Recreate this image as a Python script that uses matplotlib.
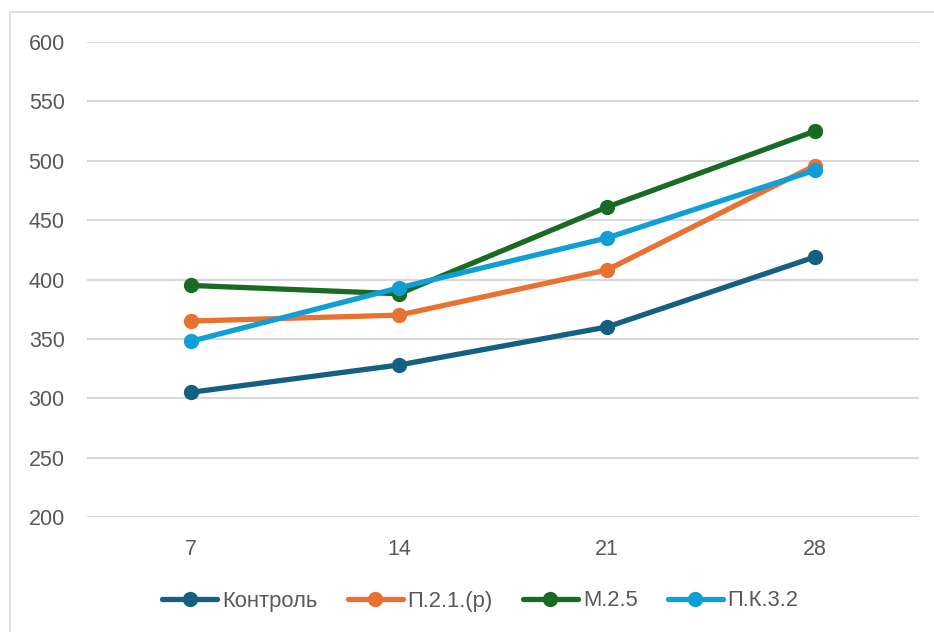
import matplotlib
matplotlib.use("Agg")
import matplotlib.pyplot as plt
from matplotlib.patches import Rectangle

categories = ["7", "14", "21", "28"]
series_names = ["Контроль", "П.2.1.(р)", "М.2.5", "П.К.3.2"]
kontrol = [305, 328, 360, 419]
p21 = [365, 370, 408, 496]
m25 = [395, 388, 461, 525]
pk32 = [348, 393, 435, 492]
colors = ["#156082", "#E97132", "#196B24", "#0F9ED5"]
y_ticks = [200, 250, 300, 350, 400, 450, 500, 550, 600]

plt.rcParams['font.family'] = ['Liberation Sans', 'DejaVu Sans']

W, H = 934, 632
fig = plt.figure(figsize=(W / 100, H / 100), dpi=100)
fig.patches.append(Rectangle((10 / W, -0.1), 1.2, 1 - 12 / H + 0.1, transform=fig.transFigure,
                             fill=False, edgecolor="#D9D9D9", linewidth=1.2))
ax = fig.add_axes([87 / W, 1 - 517 / H, (919 - 87) / W, (517 - 42) / H])

x = list(range(len(categories)))
for data, name, c in zip([kontrol, p21, m25, pk32], series_names, colors):
    ax.plot(x, data, color=c, linewidth=3.8, marker="o", markersize=10,
            label=name, solid_capstyle="round")

ax.set_xlim(-0.5, len(categories) - 0.5)
ax.set_ylim(200, 600)
ax.set_yticks(y_ticks)
ax.set_xticks(x)
ax.set_xticklabels(categories)
ax.yaxis.grid(True, color="#D9D9D9", linewidth=1.5)
ax.set_axisbelow(True)
for s in ax.spines.values():
    s.set_visible(False)
ax.tick_params(axis="both", length=0, labelsize=15.5, colors="#595959")
ax.tick_params(axis="y", pad=16)
ax.tick_params(axis="x", pad=16)

fs = 15.8
em = fs * 100 / 72
leg = ax.legend(loc="center", bbox_to_anchor=((480.5 - 87) / 832, -(601 - 517) / (517 - 42)), ncol=4,
                frameon=False, handlelength=55 / em, handletextpad=5 / em,
                columnspacing=30 / em, borderpad=0,
                prop={'family': ['Liberation Sans', 'DejaVu Sans'], 'size': fs})
for t in leg.get_texts():
    t.set_color("#595959")

fig.savefig("out.png", dpi=100)
